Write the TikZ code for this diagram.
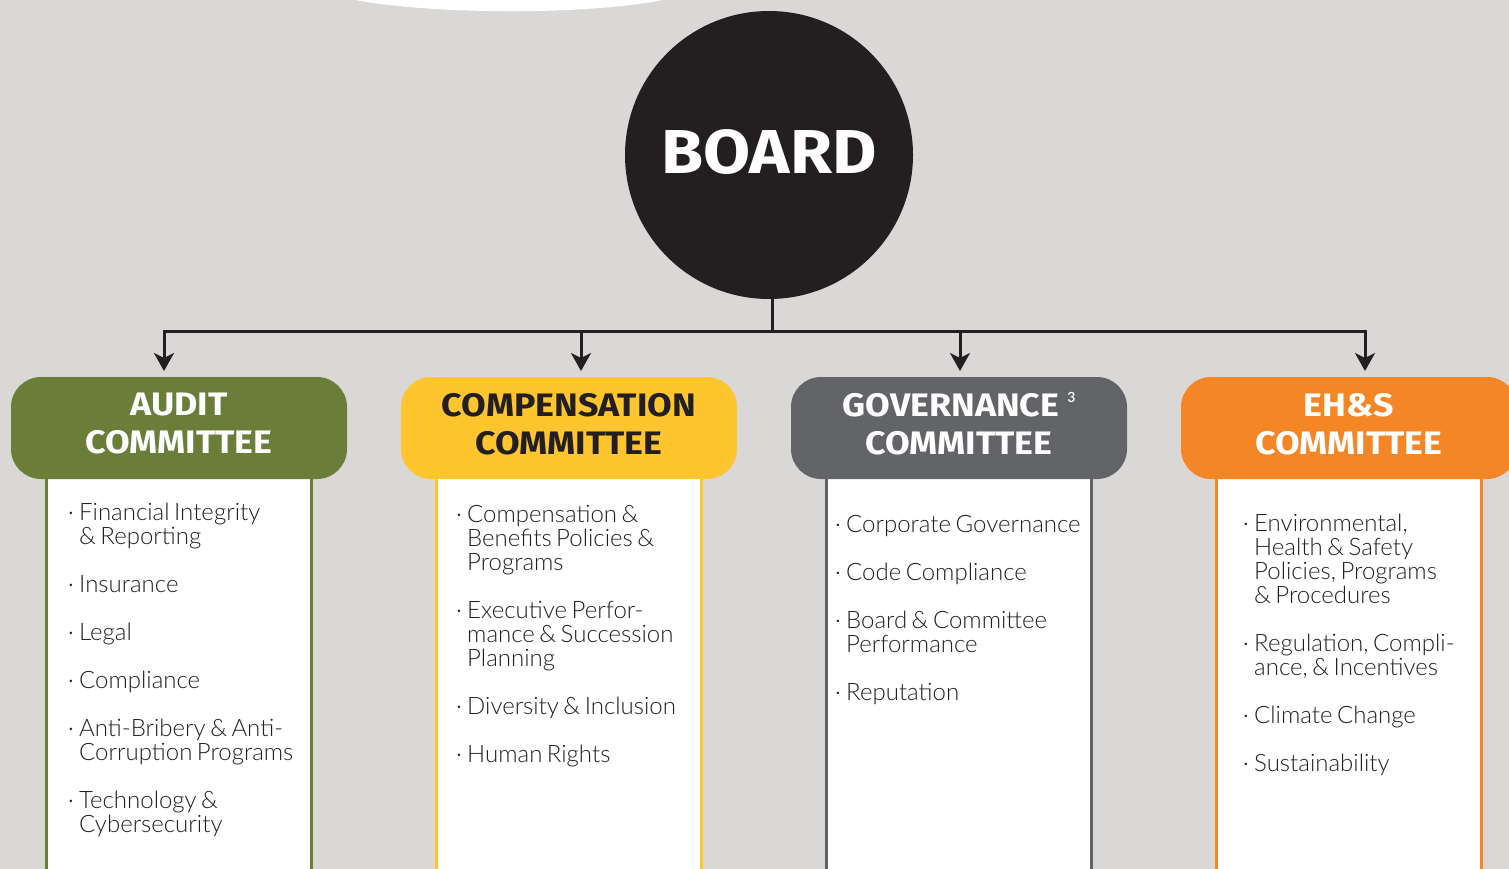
\documentclass[tikz,border=0pt]{standalone}
\usepackage{fontspec}
\setmainfont{Lato}
\newfontfamily\headfont{Fira Sans}[FakeStretch=1.1]
\newfontfamily\bodyfont{Lato Light}
\usetikzlibrary{arrows.meta}
\definecolor{bg}{HTML}{D9D8D6}
\definecolor{ink}{HTML}{231F20}
\definecolor{cgreen}{HTML}{6A7E3A}
\definecolor{cyellow}{HTML}{FEC52E}
\definecolor{cgray}{HTML}{636468}
\definecolor{corange}{HTML}{F48625}
\newcommand\bitem[1]{\spaceskip=4.5pt\relax\hangindent=11pt\hangafter=1\noindent\makebox[11pt][l]{\rule{0pt}{18pt}·}#1\par\vskip24pt}
\begin{document}
\begin{tikzpicture}[x=1pt,y=-1pt,
  headbox/.style={rounded corners=30pt, minimum width=336pt, minimum height=102pt, inner sep=0pt},
  headtext/.style={inner sep=0pt, align=center, font=\headfont\bfseries\fontsize{32.5}{38}\selectfont},
  bodybox/.style={draw, line width=3pt, fill=white, minimum width=265pt, minimum height=440pt, anchor=north, inner sep=0pt},
  itemlist/.style={anchor=north west, inner sep=0pt, text width=250pt, align=left, font=\bodyfont\fontsize{24}{24}\selectfont, text=ink},
  conn/.style={draw=ink, line width=3pt, line join=miter},
  arr/.style={conn, -{Stealth[length=18pt, width=20pt, inset=5pt]}}
]
\useasboundingbox (0,0) rectangle (1509,869);
\clip (0,0) rectangle (1509,869);
\fill[bg] (0,0) rectangle (1509,869);
\fill[white] (355,-5) -- (355,0) .. controls (430,14) and (580,16) .. (663,0) -- (663,-5) -- cycle;

% board
\node[circle, fill=ink, minimum size=288pt, inner sep=0pt] (board) at (769,155) {};
\node[inner sep=0pt, text=white, font=\headfont\bfseries\fontsize{62}{62}\selectfont] (boardlabel) at ([yshift=3pt]board.center) {BOARD};

% connectors
\coordinate (hub) at (772,331);
\coordinate (tipA) at (164,371);
\coordinate (tipB) at (581,371);
\coordinate (tipC) at (960,371);
\coordinate (tipD) at (1365,371);
\draw[conn] (board.south -| hub) -- (hub);
\draw[arr] (hub) -| (tipA);
\draw[arr] (hub) -| (tipB);
\draw[arr] (hub) -| (tipC);
\draw[arr] (hub) -| (tipD);

% body boxes
\node[bodybox, draw=cgreen] (auditbody) at (179,470) {};
\node[bodybox, draw=cyellow] (compbody) at (569,470) {};
\node[bodybox, draw=cgray] (govbody) at (959,470) {};
\node[bodybox, draw=corange] (ehsbody) at (1349,470) {};

% headers
\node[headbox, fill=cgreen] (audit) at (179,428) {};
\node[headbox, fill=cyellow] (comp) at (569,428) {};
\node[headbox, fill=cgray] (gov) at (959,428) {};
\node[headbox, fill=corange] (ehs) at (1349,428) {};
\node[headtext, text=white] (audittext) at ([yshift=4pt]audit.center) {AUDIT\\COMMITTEE};
\node[headtext, text=ink] (comptext) at ([yshift=4pt]comp.center) {COMPENSATION\\COMMITTEE};
\node[headtext, text=white] (govtext) at ([yshift=4pt]gov.center) {GOVERNANCE\hspace{8pt}\raisebox{14pt}{\bodyfont\fontsize{14}{14}\selectfont 3}\\COMMITTEE};
\node[headtext, text=white] (ehstext) at ([yshift=4pt]ehs.center) {EH\&S\\COMMITTEE};

% lists
\node[itemlist] (auditlist) at (68,502) {%
\bitem{Financial Integrity\newline \& Reporting}
\bitem{Insurance}
\bitem{Legal}
\bitem{Compliance}
\bitem{Anti-Bribery \& Anti-\newline Corruption Programs}
\bitem{Technology \&\newline Cybersecurity}};
\node[itemlist] (complist) at (456,504) {%
\bitem{Compensation \&\newline Benefits Policies \&\newline Programs}
\bitem{Executive Perfor-\newline mance \& Succession\newline Planning}
\bitem{Diversity \& Inclusion}
\bitem{Human Rights}};
\node[itemlist] (govlist) at (835,514) {%
\bitem{Corporate Governance}
\bitem{Code Compliance}
\bitem{Board \& Committee\newline Performance}
\bitem{Reputation}};
\node[itemlist] (ehslist) at (1243,513) {%
\bitem{Environmental,\newline Health \& Safety\newline Policies, Programs\newline \& Procedures}
\bitem{Regulation, Compli-\newline ance, \& Incentives}
\bitem{Climate Change}
\bitem{Sustainability}};
\end{tikzpicture}
\end{document}
